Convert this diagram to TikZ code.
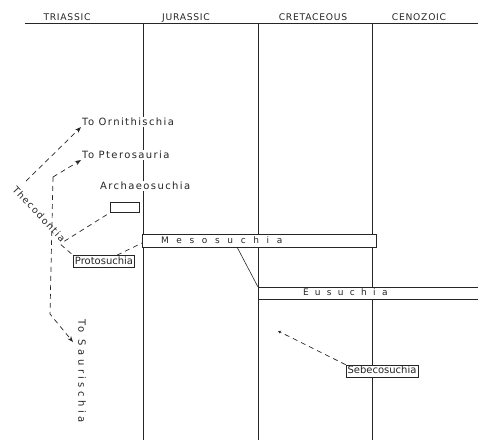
\documentclass[tikz,border=0pt]{standalone}
\usepackage{fontspec}
\setmainfont{DejaVu Sans}
\newfontfamily\lettr[LetterSpace=14]{DejaVu Sans}
\newfontfamily\eralettr[LetterSpace=8]{DejaVu Sans}
\newfontfamily\widelettr[LetterSpace=85]{DejaVu Sans}
\newfontfamily\midlettr[LetterSpace=70]{DejaVu Sans}
\newfontfamily\longlettr[LetterSpace=35]{DejaVu Sans}
\usetikzlibrary{arrows.meta}
\definecolor{cInk}{HTML}{262626}
\tikzset{
  era/.style={font=\eralettr\fontsize{9.2}{11}\selectfont, text=cInk, anchor=base, inner sep=0pt},
  lbl/.style={font=\lettr\fontsize{10}{11}\selectfont, text=cInk, fill=white, anchor=west, inner sep=1pt},
  box/.style={draw=cInk, line width=0.7pt, fill=white, font=\fontsize{10}{11}\selectfont, text=cInk, inner xsep=1.5pt, inner ysep=1.2pt, text height=7.5pt, text depth=2pt},
  bar/.style={draw=cInk, line width=0.7pt, fill=white, anchor=north west, outer sep=0pt, align=left, text=cInk, inner ysep=0pt, text height=7pt, text depth=2pt},
  edge/.style={draw=cInk, line width=0.6pt},
  dsh/.style={draw=cInk, line width=0.7pt, dash pattern=on 5pt off 4pt},
  tip/.style={-{Stealth[length=6pt, width=4.5pt]}},
}
\begin{document}
\begin{tikzpicture}[x=1pt, y=-1pt]
\useasboundingbox (0,0) rectangle (478,442);
\clip (0,0) rectangle (478,442);
% periods
\draw[edge] (25,23) -- (478,23);
\node[era] (tri) at (67,20.5) {TRIASSIC};
\node[era] (jur) at (186,20.5) {JURASSIC};
\node[era] (cre) at (313,20.5) {CRETACEOUS};
\node[era] (cen) at (419,20.5) {CENOZOIC};
\draw[edge] (143,23) -- (143,440);
\draw[edge] (258,23) -- (258,440);
\draw[edge] (372,23) -- (372,440);
% labels
\node[lbl] (orni) at (81,122) {To Ornithischia};
\node[lbl] (ptero) at (81,155) {To Pterosauria};
\node[lbl] (archl) at (99,186) {Archaeosuchia};
\node[font=\lettr\fontsize{9.5}{10}\selectfont, text=cInk, rotate=-47, inner sep=1pt] (theco) at (39,214) {Thecodontia};
\node[font=\longlettr\fontsize{10}{11}\selectfont, text=cInk, rotate=-90, inner sep=1pt] (sauri) at (82,371) {To Saurischia};
% groups
\node[box, anchor=north west, minimum width=29pt, minimum height=10pt, inner sep=0pt, text height=0pt, text depth=0pt] (arch) at (110,202) {};
\node[box] (proto) at (104,261.5) {Protosuchia};
\node[bar, font=\widelettr\fontsize{9}{10}\selectfont, inner xsep=19pt, text width=196pt, minimum height=13pt] (meso) at (142,234) {Mesosuchia};
\node[bar, font=\midlettr\fontsize{9}{10}\selectfont, inner xsep=45pt, text width=160pt, minimum height=12pt] (eu) at (258,287) {Eusuchia};
\node[box] (sebe) at (382,371) {Sebecosuchia};
\coordinate (s1) at (53,177);
\coordinate (s2) at (50,314);
\coordinate (s3) at (73,342);
\coordinate (o1) at (26,181);
\coordinate (v1) at (278,331);
% links
\draw[dsh, tip] (o1) -- (orni.south west);
\draw[dsh, tip] (s1) -- (ptero.south west);
\draw[dsh, tip] (s1) -- (s2) -- (s3);
\draw[dsh] (theco.east) -- (arch.south west);
\draw[dsh] (theco.south east) -- (proto.north west);
\draw[dsh] ([xshift=-18pt]proto.north east) -- ([yshift=-2.5pt]meso.west);
\draw[edge] ([xshift=95pt]meso.south west) -- (eu.north west);
\draw[dsh, -{Stealth[length=3pt, width=3pt]}] (sebe.north west) -- (v1);
\end{tikzpicture}
\end{document}
